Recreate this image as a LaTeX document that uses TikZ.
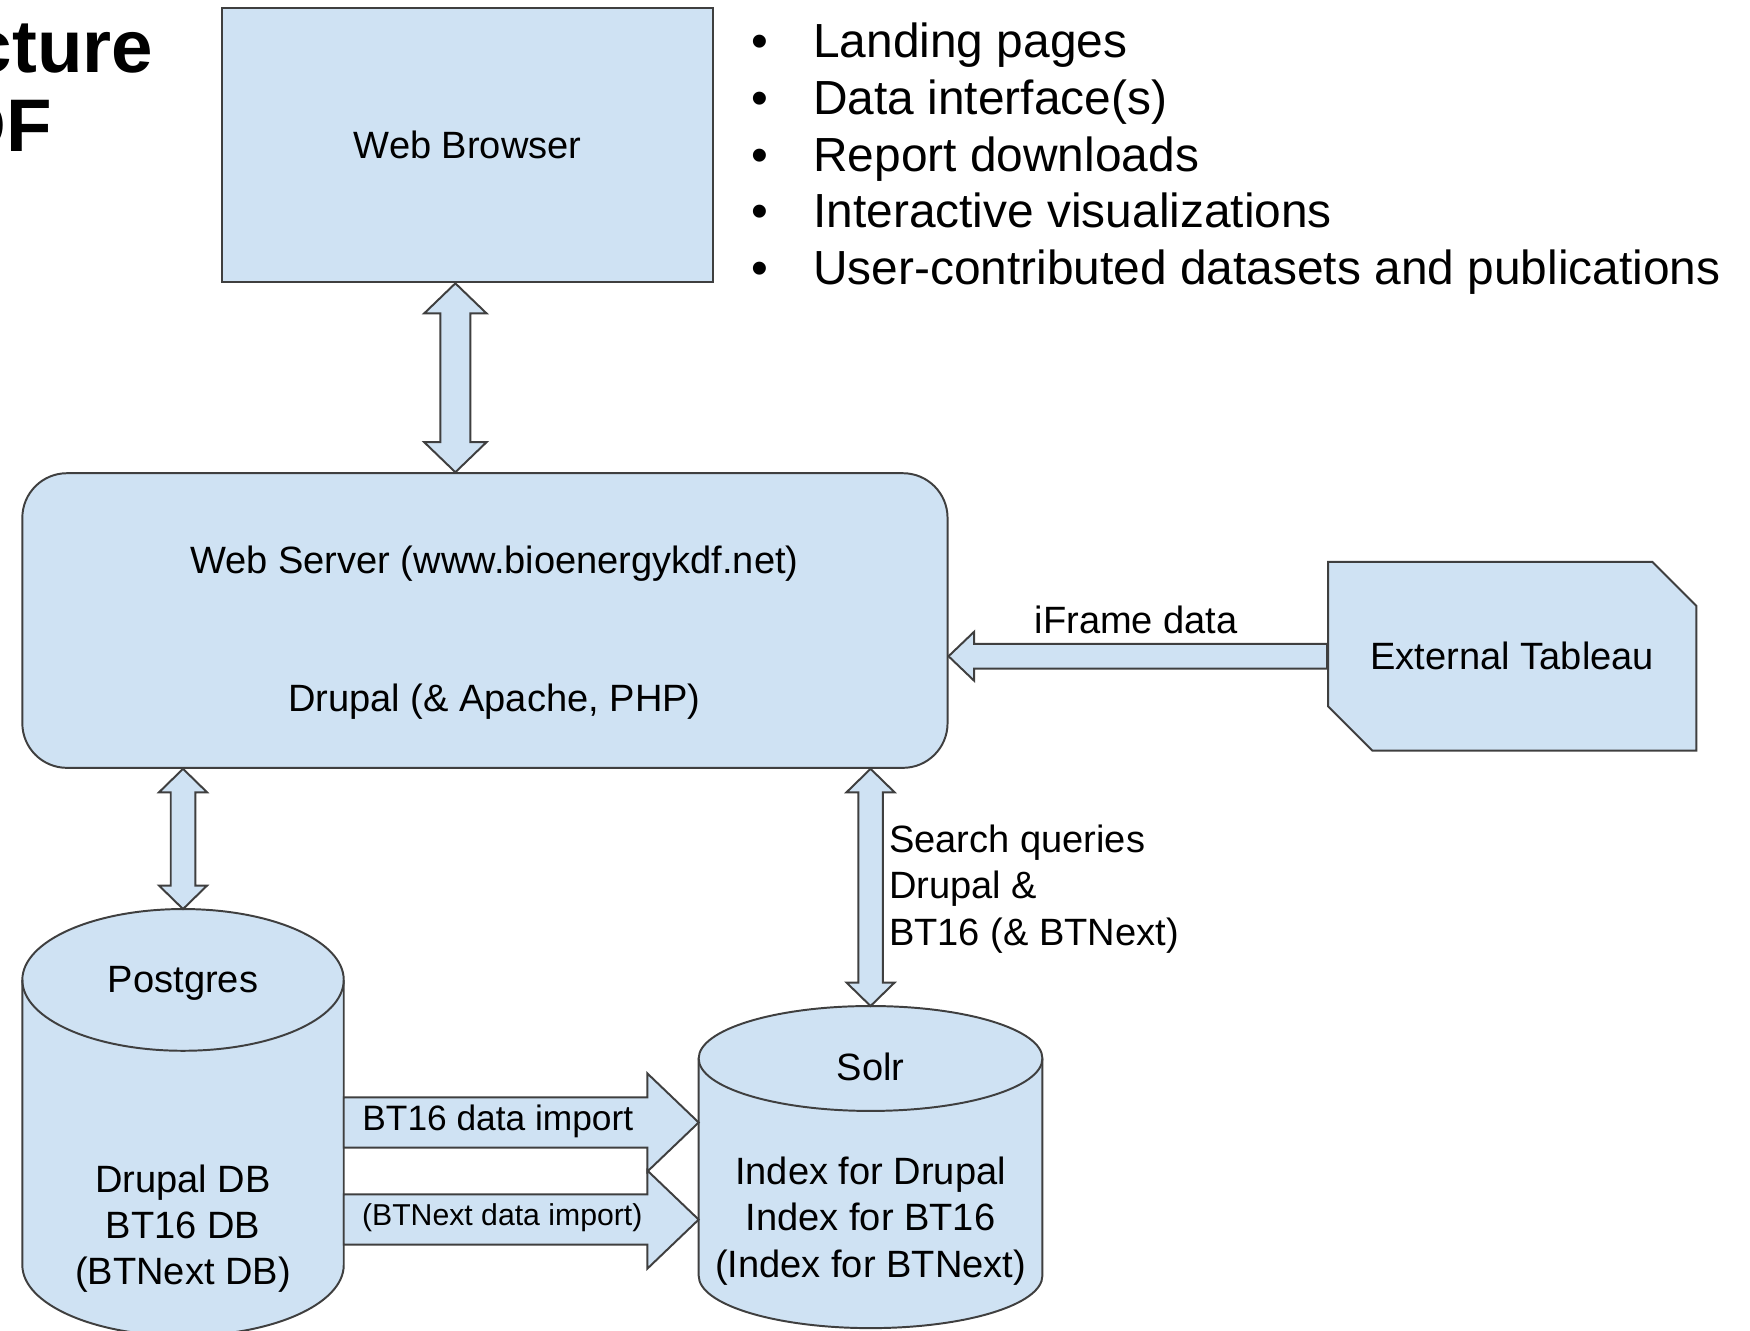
\documentclass[tikz,border=0pt]{standalone}
\usepackage{fontspec}
\setmainfont{Liberation Sans}
\usepackage{xcolor}
\usetikzlibrary{positioning,calc,shapes.misc}

\definecolor{boxblue}{HTML}{CFE2F3}
\definecolor{edgegray}{HTML}{3F3F3F}

\newcommand{\diagfont}{\fontsize{9.7}{11.8}\selectfont}

% hollow block arrows: (top)(bottom) / (tail)(tip), shaft half width, head half width, head length
\newcommand{\twoway}[5]{%
  \draw[blockarrow] (#1) -- ($(#1)+(#4,-#5)$) -- ($(#1)+(#3,-#5)$) -- ($(#2)+(#3,#5)$)
    -- ($(#2)+(#4,#5)$) -- (#2) -- ($(#2)+(-#4,#5)$) -- ($(#2)+(-#3,#5)$)
    -- ($(#1)+(-#3,-#5)$) -- ($(#1)+(-#4,-#5)$) -- cycle;}
\newcommand{\oneway}[5]{%
  \draw[blockarrow] ($(#1)+(0,#3)$) -- ($(#2)+(#5,#3)$) -- ($(#2)+(#5,#4)$) -- (#2)
    -- ($(#2)+(#5,-#4)$) -- ($(#2)+(#5,-#3)$) -- ($(#1)+(0,-#3)$) -- cycle;}
% database drum over a named node: node, x radius, y radius
\newcommand{\dbdrum}[3]{%
  \draw[blockarrow] ([yshift=-#3]#1.north west) -- ([yshift=#3]#1.south west)
    arc[start angle=180, end angle=360, x radius=#2, y radius=#3]
    -- ([yshift=-#3]#1.north east)
    arc[start angle=0, end angle=180, x radius=#2, y radius=#3] -- cycle;
  \draw[blockarrow, fill=none] ([yshift=-#3]#1.north west)
    arc[start angle=180, end angle=360, x radius=#2, y radius=#3];}

\begin{document}
\begin{tikzpicture}[
    box/.style={
        draw=edgegray,
        fill=boxblue,
        line width=0.5pt,
        align=center,
        font=\diagfont,
        inner sep=0pt
    },
    db/.style={
        rectangle,
        inner sep=0pt,
        outer sep=0pt
    },
    blockarrow/.style={
        draw=edgegray,
        fill=boxblue,
        line width=0.5pt
    },
    txt/.style={
        align=center,
        font=\diagfont,
        inner sep=0pt
    },
    slidetitle/.style={
        font=\fontsize{19}{22}\selectfont\bfseries,
        inner sep=0pt,
        anchor=base east
    }
]
    \useasboundingbox (0,0) rectangle (15.68,11.92);

    % Slide title, cut off at the left edge
    \node[slidetitle] (title1) at (1.38,11.27) {cture};
    \node[slidetitle] (title2) at (0.47,10.56) {DF};

    % Browser layer
    \node[box, minimum width=4.40cm, minimum height=2.46cm] (browser) at (4.19,10.62) {Web Browser};
    \node[anchor=north west, inner sep=0pt, align=left, font=\fontsize{12.2}{14.46}\selectfont] (features) at (6.725,11.72) {%
        \makebox[0.555cm][l]{\textbullet}Landing pages\\
        \makebox[0.555cm][l]{\textbullet}Data interface(s)\\
        \makebox[0.555cm][l]{\textbullet}Report downloads\\
        \makebox[0.555cm][l]{\textbullet}Interactive visualizations\\
        \makebox[0.555cm][l]{\textbullet}User-contributed datasets and publications};

    % Server layer
    \node[box, rounded corners=0.4cm, minimum width=8.29cm, minimum height=2.64cm] (server) at (4.345,6.36) {};
    \node[txt] (servername) at (4.43,6.87) {Web Server (www.bioenergykdf.net)};
    \node[txt] (serverstack) at (4.43,5.63) {Drupal (\& Apache, PHP)};
    \node[box, chamfered rectangle, chamfered rectangle corners={north east, south west},
        chamfered rectangle xsep=0.27cm, chamfered rectangle ysep=0.27cm,
        minimum width=3.30cm, minimum height=1.69cm] (tableau) at (13.55,6.04) {External Tableau};

    % Storage layer
    \node[db, minimum width=2.88cm, minimum height=3.825cm] (pg) at (1.64,1.8625) {};
    \node[db, minimum width=3.08cm, minimum height=2.886cm] (solr) at (7.80,1.463) {};
    \dbdrum{pg}{1.44cm}{0.635cm}
    \dbdrum{solr}{1.54cm}{0.47cm}
    \node[txt] (pgname) at (1.64,3.11) {Postgres};
    \node[txt] (pgdbs) at (1.64,0.91) {Drupal DB\\BT16 DB\\(BTNext DB)};
    \node[txt] (solrname) at (7.80,2.36) {Solr};
    \node[txt] (solrindex) at (7.80,0.98) {Index for Drupal\\Index for BT16\\(Index for BTNext)};

    % Arrow end points
    \coordinate (bw) at ([xshift=-0.11cm]browser.south);
    \coordinate (bwend) at (bw |- server.north);
    \coordinate (pgtop) at (pg.north |- server.south);
    \coordinate (solrtop) at (solr.north |- server.south);
    \coordinate (iframetip) at (tableau.west -| server.east);
    \coordinate (imp1) at (pg.east);
    \coordinate (imp1tip) at (imp1 -| solr.west);
    \coordinate (imp2) at ([yshift=-0.87cm]pg.east);
    \coordinate (imp2tip) at (imp2 -| solr.west);

    % Connections
    \twoway{bw}{bwend}{0.135}{0.28}{0.27}
    \twoway{pgtop}{pg.north}{0.11}{0.215}{0.21}
    \twoway{solrtop}{solr.north}{0.11}{0.215}{0.21}
    \oneway{tableau.west}{iframetip}{0.11}{0.22}{0.23}
    \oneway{imp1}{imp1tip}{0.225}{0.44}{-0.46}
    \oneway{imp2}{imp2tip}{0.225}{0.44}{-0.46}

    % Connector labels
    \node[txt] (iframe) at (10.18,6.37) {iFrame data};
    \node[txt, align=left, anchor=west] (search) at (7.96,3.955) {Search queries\\Drupal \&\\BT16 (\& BTNext)};
    \node[txt, font=\fontsize{9}{11}\selectfont] (imp1lbl) at (4.46,1.87) {BT16 data import};
    \node[txt, font=\fontsize{7.7}{9}\selectfont] (imp2lbl) at (4.50,1.01) {(BTNext data import)};
\end{tikzpicture}
\end{document}
